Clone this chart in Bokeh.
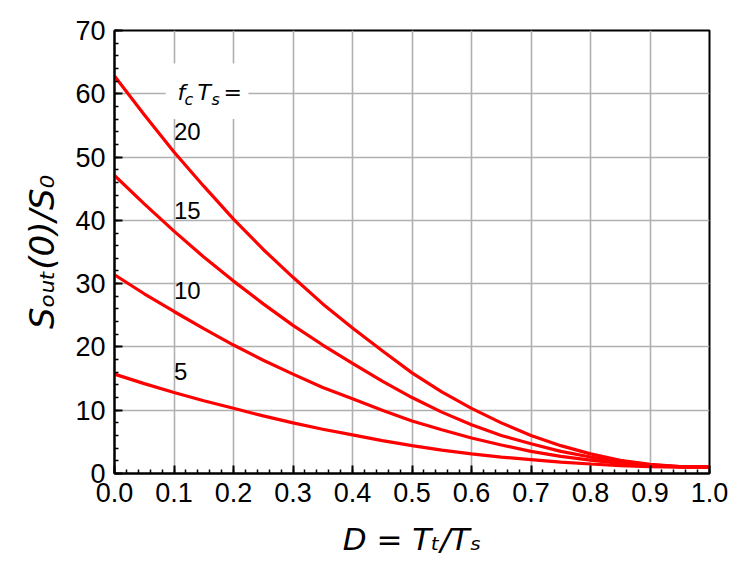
import numpy as np
from bokeh.plotting import figure
from bokeh.models import Label, Range1d, FixedTicker, NumeralTickFormatter, BoxAnnotation
from bokeh.embed import file_html
from bokeh.resources import INLINE

# ---- data ----
D = [0.00, 0.05, 0.10, 0.15, 0.20, 0.25, 0.30, 0.35, 0.40, 0.45, 0.50,
     0.55, 0.60, 0.65, 0.70, 0.75, 0.80, 0.85, 0.90, 0.95, 1.00]
S_fc5 = [15.7, 14.2, 12.8, 11.5, 10.3, 9.1, 8.0, 7.0, 6.1, 5.2, 4.4,
         3.7, 3.1, 2.6, 2.2, 1.8, 1.5, 1.25, 1.1, 1.0, 1.0]
S_fc10 = [31.4, 28.4, 25.6, 22.9, 20.3, 17.9, 15.7, 13.6, 11.8, 10.0, 8.3,
          6.9, 5.6, 4.5, 3.5, 2.7, 2.1, 1.6, 1.25, 1.05, 1.0]
S_fc15 = [47.1, 42.6, 38.3, 34.2, 30.4, 26.8, 23.4, 20.3, 17.4, 14.6, 12.0,
          9.7, 7.7, 6.0, 4.7, 3.5, 2.6, 1.9, 1.35, 1.1, 1.0]
S_fc20 = [62.8, 56.7, 50.8, 45.4, 40.2, 35.4, 31.0, 26.8, 23.0, 19.4, 15.9,
          12.9, 10.3, 8.0, 6.0, 4.4, 3.1, 2.1, 1.45, 1.1, 1.0]
series = [S_fc5, S_fc10, S_fc15, S_fc20]
series_labels = ["5", "10", "15", "20"]
x_ticks = [0.0, 0.1, 0.2, 0.3, 0.4, 0.5, 0.6, 0.7, 0.8, 0.9, 1.0]
y_ticks = [0, 10, 20, 30, 40, 50, 60, 70]
x_title = "D = T\u209c/T\u209b"
y_title = "S\u2092\u1d64\u209c(0)/S\u2080"

TICK_FONT = "Liberation Sans"
MATH_FONT = "DejaVu Sans"

FW, FH = 595, 443          # frame size in px
X0, X1, Y0, Y1 = 0.0, 1.0, 0.0, 70.0

p = figure(width=730, height=565, output_backend="svg", toolbar_location=None,
           x_range=Range1d(X0, X1), y_range=Range1d(Y0, Y1),
           min_border_left=114, min_border_right=730 - 114 - FW,
           min_border_top=30, min_border_bottom=565 - 30 - FH)
p.background_fill_color = "white"
p.border_fill_color = "white"
p.outline_line_color = "black"
p.outline_line_width = 2
p.outline_line_alpha = 1

x_minor = [i / 50 for i in range(51)]
y_minor = [i * 2 for i in range(36)]
p.xaxis.ticker = FixedTicker(ticks=x_ticks, minor_ticks=x_minor)
p.yaxis.ticker = FixedTicker(ticks=y_ticks, minor_ticks=y_minor)
p.xaxis.formatter = NumeralTickFormatter(format="0.0")

for ax in (p.xaxis[0], p.yaxis[0]):
    ax.axis_line_width = 2
    ax.axis_line_color = "black"
    ax.major_tick_in = 8
    ax.major_tick_out = 0
    ax.minor_tick_in = 4
    ax.minor_tick_out = 0
    ax.major_tick_line_width = 2
    ax.minor_tick_line_width = 1.5
    ax.major_tick_line_color = "black"
    ax.minor_tick_line_color = "black"
    ax.major_label_text_font = TICK_FONT
    ax.major_label_text_font_size = "27px"
    ax.major_label_text_color = "black"
    ax.axis_label_text_font = MATH_FONT
    ax.axis_label_text_font_style = "italic"
    ax.axis_label_text_color = "black"
p.xaxis.axis_label = x_title
p.yaxis.axis_label = y_title
p.xaxis.axis_label_text_font_size = "31px"
p.yaxis.axis_label_text_font_size = "34px"
p.xaxis.major_label_standoff = 9
p.yaxis.major_label_standoff = 9
p.xaxis.axis_label_standoff = 16
p.yaxis.axis_label_standoff = 10

p.xgrid.grid_line_color = "#b0b0b0"
p.ygrid.grid_line_color = "#b0b0b0"
p.xgrid.grid_line_width = 1.6
p.ygrid.grid_line_width = 1.6

for s in series:
    p.line(D, s, line_color="red", line_width=3.2)

# white box behind the "fc Ts =" heading
p.add_layout(BoxAnnotation(left=0.086, right=0.225, bottom=56.0, top=64.8,
                           fill_color="white", fill_alpha=1, line_color=None,
                           level="glyph"))

def px2x(px):
    return X0 + (X1 - X0) * px / FW

def px2y(py):
    return Y0 + (Y1 - Y0) * py / FH

def lab(x, y, text, size, italic=False, font=MATH_FONT):
    p.add_layout(Label(x=x, y=y, text=text,
                       text_font=font, text_font_size=size,
                       text_font_style="italic" if italic else "normal",
                       text_color="black", level="overlay",
                       text_align="left", text_baseline="alphabetic"))

def plab(px, py, text, size, italic=False, font=MATH_FONT):
    # position given in px from the frame's bottom-left corner
    lab(px2x(px), px2y(py), text, size, italic=italic, font=font)

# series labels at D = 0.1, just above each curve
i_lab = D.index(0.10)
for s, t in zip(series, series_labels):
    lab(D[i_lab], s[i_lab] + 3.3, t, "24px", font=TICK_FONT)

# heading  f_c T_s =
hb = 381
plab(63, hb, "f", "22px", italic=True)
plab(70, hb - 7, "c", "16px", italic=True)
plab(83, hb, "T", "22px", italic=True)
plab(97, hb - 7, "s", "16px", italic=True)
plab(109, hb, "=", "22px")

open("out.html", "w").write(file_html(p, INLINE))
